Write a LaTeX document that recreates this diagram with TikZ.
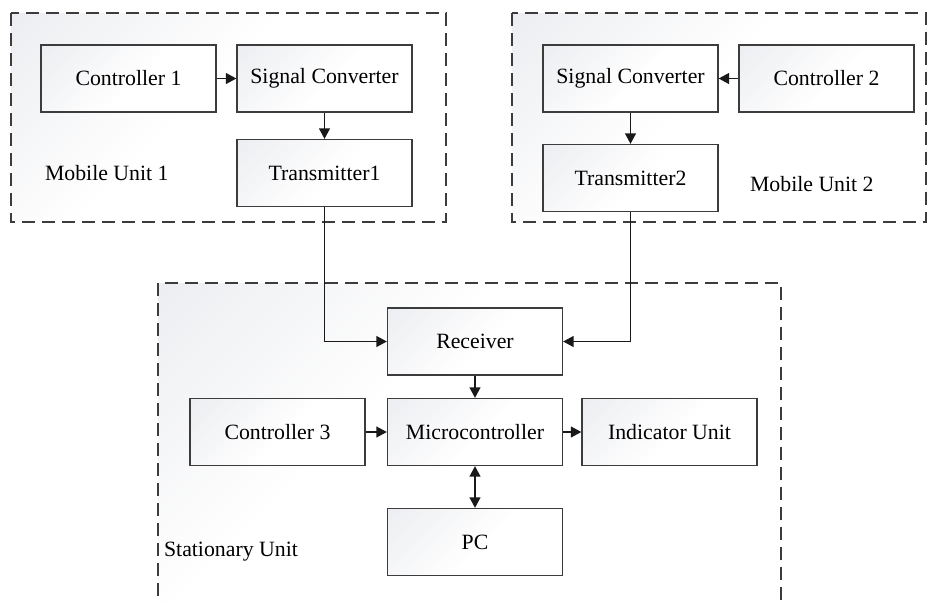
\documentclass[tikz,border=0pt]{standalone}
\usepackage{fontspec}
\newfontfamily\timesfont{Liberation Serif}
\usetikzlibrary{arrows.meta}
\definecolor{shadegray}{RGB}{225,227,232}
\definecolor{linegray}{RGB}{60,60,60}
\pgfdeclarehorizontalshading{cornerfade}{100bp}{color(0bp)=(shadegray); color(38bp)=(white); color(100bp)=(white)}

\begin{document}
\begin{tikzpicture}[x=0.5pt,y=-0.5pt,>={Triangle[length=5.2pt,width=5.4pt]},
  font=\timesfont\fontsize{10.9}{13}\selectfont,
  tlshade/.style={fill=white,path picture={\shade[shading=cornerfade,shading angle=-45]
    (path picture bounding box.north west) rectangle ++(#1,-#1);}},
  block/.style={draw=linegray,line width=0.65pt,tlshade=100pt,
    minimum width=87.5pt,minimum height=33.5pt,inner sep=0pt},
  unitbox/.style={draw=linegray,line width=0.65pt,dash pattern=on 6.5pt off 3.5pt,tlshade=200pt},
  link/.style={->,draw=black!90,line width=0.7pt}]
  \clip (0,0) rectangle (937,601);

  % dashed unit frames
  \path[unitbox] (11,13) rectangle (446,222);
  \path[unitbox] (512,13) rectangle (926,222);
  \path[unitbox] (158,283) rectangle (781,620);

  \node[block] (ctrlA) at (128.5,78.5) {Controller 1};
  \node[block] (convA) at (324.5,78.5) {Signal Converter};
  \node[block] (txA) at (324.5,173) {Transmitter1};
  \node[anchor=west] (labA) at (38,173) {Mobile Unit 1};

  \node[block] (convB) at (630.5,78.5) {Signal Converter};
  \node[block] (ctrlB) at (826.5,78.5) {Controller 2};
  \node[block] (txB) at (630.5,178) {Transmitter2};
  \node[anchor=west] (labB) at (743,184) {Mobile Unit 2};

  \node[block] (rx) at (475,341.5) {Receiver};
  \node[block] (mcu) at (475,432) {Microcontroller};
  \node[block] (ctl3) at (277.5,432) {Controller 3};
  \node[block] (ind) at (669.5,432) {Indicator Unit};
  \node[block] (pc) at (475,542) {PC};
  \node[anchor=west] (labS) at (157,552) {Stationary Unit};

  \draw[link] (ctrlA) -- (convA);
  \draw[link] (convA) -- (txA);
  \draw[link] (ctrlB) -- (convB);
  \draw[link] (convB) -- (txB);
  \draw[link] (txA.south) |- (rx.west);
  \draw[link] (txB.south) |- (rx.east);
  \draw[link] (rx) -- (mcu);
  \draw[link] (ctl3) -- (mcu);
  \draw[link] (mcu) -- (ind);
  \draw[link,<->] (mcu) -- (pc);
\end{tikzpicture}
\end{document}
